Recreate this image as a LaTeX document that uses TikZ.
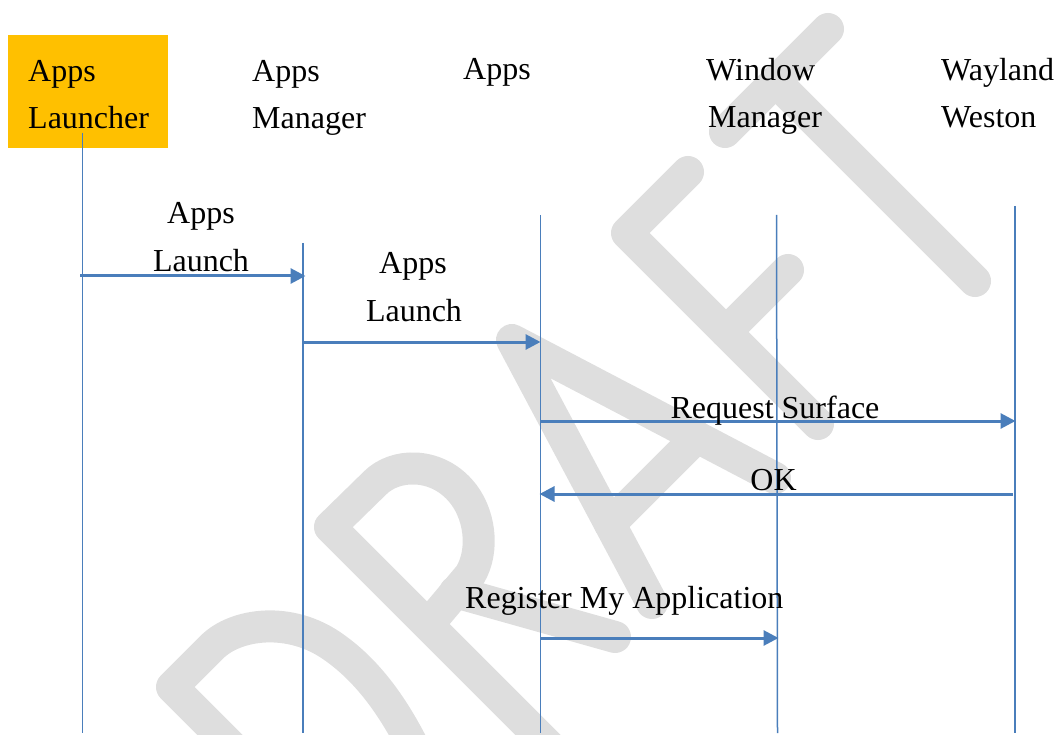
\documentclass[tikz,border=0pt]{standalone}
\usepackage{fontspec}
\setmainfont{Liberation Serif}
\usetikzlibrary{arrows.meta}
\definecolor{lineblue}{RGB}{74,126,187}
\definecolor{boxorange}{RGB}{255,192,0}
\definecolor{wmgray}{RGB}{222,222,222}
\begin{document}
\begin{tikzpicture}[x=1pt,y=-1pt,
  wm/.style={draw=wmgray,line width=32pt,line cap=round,line join=round},
  life/.style={draw=lineblue,line width=1.5pt},
  msg/.style={draw=lineblue,line width=3pt,-{Triangle[length=15pt,width=15pt]}},
  txt/.style={inner sep=0pt,font=\fontsize{32}{38}\selectfont},
  lefttxt/.style={txt,anchor=base west},
  midtxt/.style={txt,anchor=base}]
\useasboundingbox (0,0) rectangle (1057,735);

% watermark DRAFT
\begin{scope}
\clip (0,0) rectangle (1057,735);
% D
\draw[wm] (270,785) -- (172,687) -- (212,647) .. controls (235,624) and (290,615) .. (335,648) .. controls (370,673) and (395,710) .. (415,750);
% R
\draw[wm] (570,767) -- (330,527) -- (375,483) .. controls (395,463) and (435,462) .. (460,490) .. controls (480,512) and (485,550) .. (470,575) -- (428,625);
\draw[wm] (455,592) -- (615,637);
% A
\draw[wm] (652,603) -- (512,340) -- (775,478);
\draw[wm] (610,524) -- (697,437);
% F
\draw[wm] (818,424) -- (627,233) -- (688,172);
\draw[wm] (726,332) -- (788,270);
% T
\draw[wm] (725,132) -- (828,29);
\draw[wm] (775.5,81.5) -- (975,281);
\end{scope}

% header box
\node[fill=boxorange,minimum width=160.4pt,minimum height=112.7pt,inner sep=0pt,anchor=north west] (launcherbox) at (7.3,35) {};

% headers
\node[lefttxt] (h1a) at (28,82) {Apps};
\node[lefttxt] (h1b) at (28,129) {Launcher};
\node[lefttxt] (h2a) at (252,82) {Apps};
\node[lefttxt] (h2b) at (252,129) {Manager};
\node[lefttxt] (h3a) at (463,80) {Apps};
\node[lefttxt] (h4a) at (706,81) {Window};
\node[lefttxt] (h4b) at (708,128) {Manager};
\node[lefttxt] (h5a) at (941,81) {Wayland};
\node[lefttxt] (h5b) at (941,128) {Weston};

% lifelines
\coordinate (l1t) at (82.5,133);  \coordinate (l1b) at (82.5,733);
\coordinate (l2t) at (303,243);   \coordinate (l2b) at (303,733);
\coordinate (l3t) at (540.5,215); \coordinate (l3b) at (540.5,733);
\coordinate (l4t) at (776.5,215); \coordinate (l4b) at (777.5,733);
\coordinate (l5t) at (1015,206);  \coordinate (l5b) at (1015,733);
\draw[life] (l1t) -- (l1b);
\draw[life] (l2t) -- (l2b);
\draw[life] (l3t) -- (l3b);
\draw[life] (l4t) -- (l4b);
\draw[life] (l5t) -- (l5b);

% messages
\coordinate (m1s) at (80,276);   \coordinate (m1e) at (305.5,276);
\coordinate (m2s) at (303,342);  \coordinate (m2e) at (540.5,342);
\coordinate (m3s) at (540,421);  \coordinate (m3e) at (1015.5,421);
\coordinate (m4s) at (1013,494); \coordinate (m4e) at (539.5,494);
\coordinate (m5s) at (540,638);  \coordinate (m5e) at (778.5,638);
\draw[msg] (m1s) -- (m1e);
\draw[msg] (m2s) -- (m2e);
\draw[msg] (m3s) -- (m3e);
\draw[msg] (m4s) -- (m4e);
\draw[msg] (m5s) -- (m5e);

% message labels
\node[midtxt] (t1a) at (201,224) {Apps};
\node[midtxt] (t1b) at (201,272) {Launch};
\node[midtxt] (t2a) at (413,273) {Apps};
\node[midtxt] (t2b) at (414,321) {Launch};
\node[midtxt] (t3) at (775,418) {Request Surface};
\node[midtxt] (t4) at (773.5,490) {OK};
\node[lefttxt] (t5) at (465,608) {Register My Application};
\end{tikzpicture}
\end{document}
